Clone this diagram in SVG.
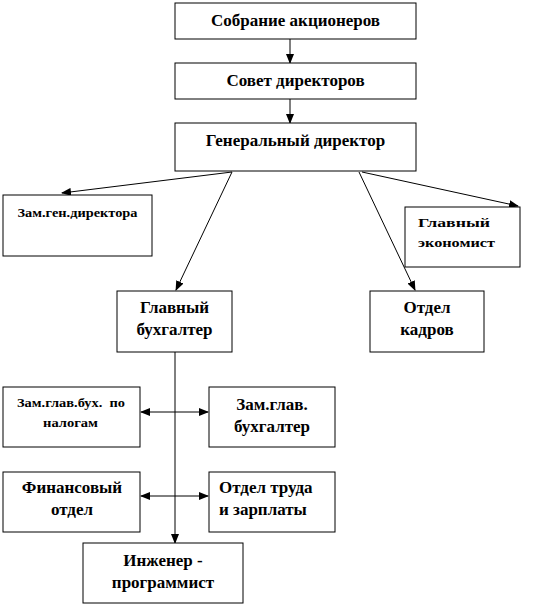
<svg xmlns="http://www.w3.org/2000/svg" width="546" height="606" viewBox="0 0 546 606">
<defs>
<marker id="ah" markerWidth="10" markerHeight="8" refX="9" refY="4" orient="auto" markerUnits="userSpaceOnUse">
<path d="M0,0 L10,4 L0,8 Z" fill="#000"/>
</marker>
<marker id="ahs" markerWidth="10" markerHeight="8" refX="1" refY="4" orient="auto" markerUnits="userSpaceOnUse">
<path d="M10,0 L0,4 L10,8 Z" fill="#000"/>
</marker>
<style>
.b{fill:#fff;stroke:#000;stroke-width:1}
.t{font-weight:bold;fill:#000;text-anchor:middle}
.l{font-size:17px}
.s{font-size:12px}
.c{stroke:#000;stroke-width:1;fill:none}
</style>
</defs>
<rect width="546" height="606" fill="#fff"/>
<g id="connectors">
<line class="c" x1="290" y1="39" x2="290" y2="63" marker-end="url(#ah)"/>
<line class="c" x1="290" y1="99" x2="290" y2="123" marker-end="url(#ah)"/>
<line class="c" x1="232" y1="172" x2="62" y2="193" marker-end="url(#ah)"/>
<line class="c" x1="232" y1="172" x2="176" y2="290" marker-end="url(#ah)"/>
<line class="c" x1="359" y1="172" x2="415" y2="290" marker-end="url(#ah)"/>
<line class="c" x1="362" y1="172" x2="518" y2="206" marker-end="url(#ah)"/>
<line class="c" x1="175" y1="352" x2="175" y2="543" marker-end="url(#ah)"/>
<line class="c" x1="141" y1="412" x2="208" y2="412" marker-start="url(#ahs)" marker-end="url(#ah)"/>
<line class="c" x1="141" y1="496" x2="208" y2="496" marker-start="url(#ahs)" marker-end="url(#ah)"/>
</g>
<g font-family="'Liberation Serif', 'DejaVu Serif', serif">
<g id="n1"><rect class="b" x="175" y="3" width="241" height="36"/><text class="t l" x="295.5" y="26">Собрание акционеров</text></g>
<g id="n2"><rect class="b" x="175" y="63" width="241" height="36"/><text class="t l" x="295.5" y="86">Совет директоров</text></g>
<g id="n3"><rect class="b" x="175" y="123" width="241" height="48"/><text class="t l" x="295.5" y="146">Генеральный директор</text></g>
<g id="n4"><rect class="b" x="3" y="195" width="149" height="61"/><text class="t s" x="77.5" y="217" textLength="120" lengthAdjust="spacingAndGlyphs">Зам.ген.директора</text></g>
<g id="n5"><rect class="b" x="405" y="207" width="115" height="60"/><text class="t s" x="454" y="227" textLength="72" lengthAdjust="spacingAndGlyphs">Главный</text><text class="t s" x="456.5" y="247" textLength="77" lengthAdjust="spacingAndGlyphs">экономист</text></g>
<g id="n6"><rect class="b" x="117" y="291" width="115" height="61"/><text class="t l" x="174.5" y="313">Главный</text><text class="t l" x="174.5" y="335">бухгалтер</text></g>
<g id="n7"><rect class="b" x="370" y="291" width="114" height="61"/><text class="t l" x="427" y="313">Отдел</text><text class="t l" x="427" y="335">кадров</text></g>
<g id="n8"><rect class="b" x="3" y="387" width="137" height="60"/><text class="t s" x="71" y="407" xml:space="preserve" textLength="108" lengthAdjust="spacingAndGlyphs">Зам.глав.бух.  по</text><text class="t s" x="70.5" y="427" textLength="55" lengthAdjust="spacingAndGlyphs">налогам</text></g>
<g id="n9"><rect class="b" x="209" y="387" width="126" height="60"/><text class="t l" x="272" y="410">Зам.глав.</text><text class="t l" x="272" y="432">бухгалтер</text></g>
<g id="n10"><rect class="b" x="3" y="472" width="137" height="60"/><text class="t l" x="72" y="493">Финансовый</text><text class="t l" x="72" y="515">отдел</text></g>
<g id="n11"><rect class="b" x="209" y="472" width="126" height="60"/><text class="t l" x="219" y="493" style="text-anchor:start">Отдел труда</text><text class="t l" x="219" y="515" style="text-anchor:start">и зарплаты</text></g>
<g id="n12"><rect class="b" x="83" y="543" width="160" height="60"/><text class="t l" x="163" y="566">Инженер -</text><text class="t l" x="163" y="588">программист</text></g>
</g>
</svg>
